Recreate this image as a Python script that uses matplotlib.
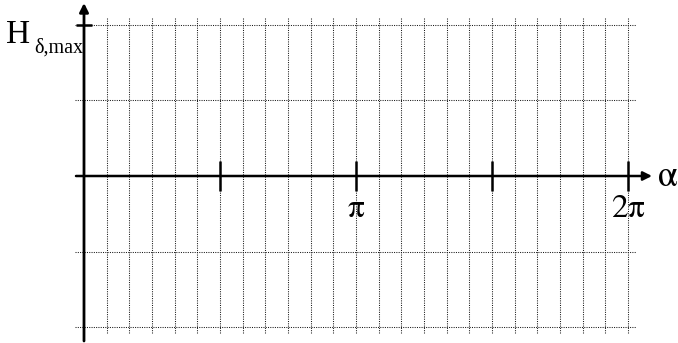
import numpy as np
import matplotlib
matplotlib.use("Agg")
import matplotlib.pyplot as plt

plt.rcParams["mathtext.fontset"] = "stix"

PI = np.pi
# grid and ticks
grid_x = [k * PI / 12 for k in range(1, 25)]
grid_y = [-2, -1, 1, 2]
xtick_pos = [PI / 2, PI, 3 * PI / 2, 2 * PI]
xtick_labels = ["", r"$\mathrm{\pi}$", "", r"$\mathrm{2\pi}$"]
ytick_pos = [2]

W, H = 678, 343
fig = plt.figure(figsize=(W / 100, H / 100), dpi=100)
ax = fig.add_axes([0, 0, 1, 1])
ax.set_axis_off()

# map pixels: x=0 at px 84, x=2pi at px 628 ; y=0 at py 176
sx = 272 / PI
x0 = -84 / sx
x1 = (W - 84) / sx
sy = 75.7
ax.set_xlim(x0, x1)
ax.set_ylim((176 - H) / sy, 176 / sy)

def px(v):
    return (v - 84) / sx

def py(v):
    return (176 - v) / sy

serif = "Liberation Serif"
dot = dict(color="#1a1a1a", lw=0.75, linestyle=(0, (1, 1.2)))

ax.vlines(grid_x, py(333), py(17), **dot)
ax.hlines(grid_y, px(75), px(636), **dot)

# axes with arrows
ax.annotate("", xy=(0, py(3)), xytext=(0, py(341)),
            arrowprops=dict(arrowstyle="-|>", lw=2.0, color="black",
                            mutation_scale=13, shrinkA=0, shrinkB=0))
ax.annotate("", xy=(px(652), 0), xytext=(px(76), 0),
            arrowprops=dict(arrowstyle="-|>", lw=1.8, color="black",
                            mutation_scale=13, shrinkA=0, shrinkB=0))

# x ticks
ax.vlines(xtick_pos, py(191), py(161), color="black", lw=1.8)
for xp, lab in zip(xtick_pos, xtick_labels):
    if lab:
        ax.text(xp, py(217), lab, ha="center", va="baseline", fontsize=24)
# y tick
ax.hlines(ytick_pos, px(76), px(92), color="black", lw=1.8)

ax.text(px(657), py(186), r"$\mathrm{\alpha}$", ha="left", va="baseline", fontsize=26)
ax.text(px(6), py(43), "H", ha="left", va="baseline", fontsize=24, family=serif)
ax.text(px(34), py(53), "δ,max", ha="left", va="baseline", fontsize=14.5, family=serif)

fig.savefig("out.png", dpi=100)
